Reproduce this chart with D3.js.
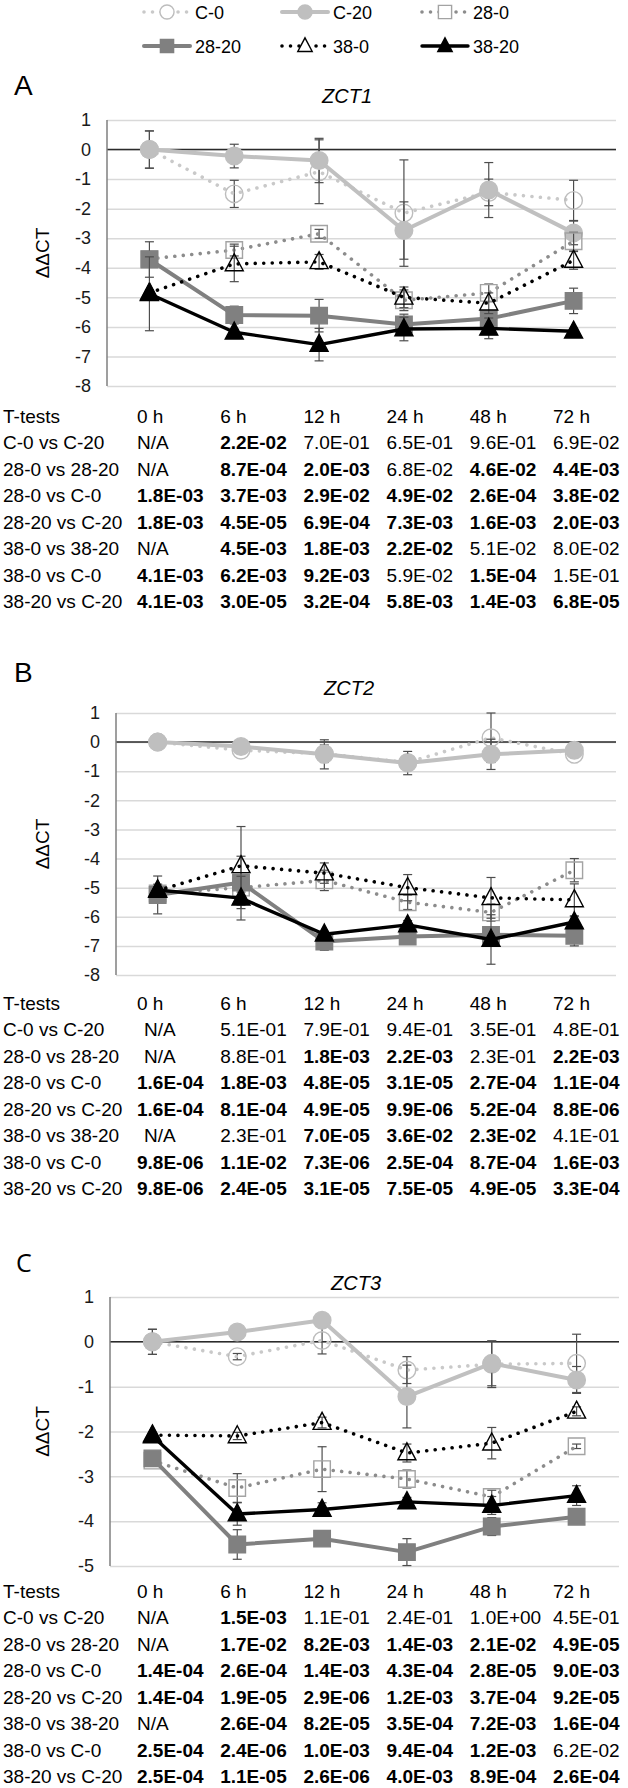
<!DOCTYPE html>
<html>
<head>
<meta charset="utf-8">
<script src="https://cdn.jsdelivr.net/npm/d3@7"></script>
<style>
  body { margin: 0; background: #fff; }
  svg { display: block; font-family: "Liberation Sans", Arial, sans-serif; }
</style>
</head>
<body>
<svg id="fig" width="628" height="1788"></svg>
<script>
// ---- data ----
const hours = ["0 h", "6 h", "12 h", "24 h", "48 h", "72 h"];
const seriesNames = ["C-0", "C-20", "28-0", "28-20", "38-0", "38-20"];

// ZCT1 mean ddCT and error
const zct1_C0   = [0, -1.5, -0.75, -2.15, -1.45, -1.72];
const zct1_C20  = [0, -0.22, -0.37, -2.74, -1.37, -2.82];
const zct1_280  = [-3.7, -3.4, -2.85, -5.1, -4.85, -3.1];
const zct1_2820 = [-3.72, -5.6, -5.62, -5.92, -5.72, -5.12];
const zct1_380  = [-4.85, -3.87, -3.8, -5.0, -5.2, -3.75];
const zct1_3820 = [-4.88, -6.18, -6.6, -6.07, -6.05, -6.15];
const zct1_C0_sd   = [0.63, 0.46, 1.08, 1.8, 0.45, 0.68];
const zct1_C20_sd  = [0.63, 0.4, 0.75, 0.97, 0.93, 0.4];
const zct1_280_sd  = [0.1, 0.2, 0.15, 0.35, 0.3, 0.3];
const zct1_2820_sd = [0.6, 0.3, 0.55, 0.35, 0.25, 0.43];
const zct1_380_sd  = [0.1, 0.6, 0.25, 0.35, 0.35, 0.3];
const zct1_3820_sd = [1.25, 0.1, 0.55, 0.4, 0.35, 0.1];

// ZCT2
const zct2_C0   = [0, -0.28, -0.4, -0.7, 0.15, -0.42];
const zct2_C20  = [0, -0.15, -0.42, -0.72, -0.42, -0.28];
const zct2_280  = [-5.2, -5.0, -4.75, -5.5, -5.85, -4.4];
const zct2_2820 = [-5.25, -4.82, -6.85, -6.68, -6.62, -6.65];
const zct2_380  = [-5.1, -4.25, -4.5, -5.0, -5.35, -5.42];
const zct2_3820 = [-5.08, -5.36, -6.6, -6.28, -6.78, -6.18];
const zct2_C0_sd   = [0.05, 0.1, 0.3, 0.2, 0.85, 0.1];
const zct2_C20_sd  = [0.05, 0.1, 0.5, 0.4, 0.52, 0.1];
const zct2_280_sd  = [0.1, 0.15, 0.35, 0.25, 0.3, 0.4];
const zct2_2820_sd = [0.65, 0.9, 0.3, 0.2, 0.2, 0.35];
const zct2_380_sd  = [0.1, 1.35, 0.35, 0.45, 0.7, 0.55];
const zct2_3820_sd = [0.2, 0.75, 0.1, 0.15, 0.85, 0.2];

// ZCT3
const zct3_C0   = [0, -0.33, 0.03, -0.63, -0.5, -0.48];
const zct3_C20  = [0, 0.22, 0.48, -1.22, -0.48, -0.85];
const zct3_280  = [-2.65, -3.26, -2.84, -3.06, -3.46, -2.33];
const zct3_2820 = [-2.6, -4.52, -4.39, -4.69, -4.12, -3.9];
const zct3_380  = [-2.08, -2.1, -1.8, -2.48, -2.26, -1.55];
const zct3_3820 = [-2.1, -3.84, -3.74, -3.57, -3.65, -3.43];
const zct3_C0_sd   = [0.28, 0.07, 0.3, 0.3, 0.52, 0.65];
const zct3_C20_sd  = [0.28, 0.05, 0.05, 0.7, 0.5, 0.3];
const zct3_280_sd  = [0.05, 0.32, 0.5, 0.2, 0.15, 0.05];
const zct3_2820_sd = [0.05, 0.33, 0.1, 0.3, 0.2, 0.05];
const zct3_380_sd  = [0.05, 0.08, 0.12, 0.2, 0.35, 0.1];
const zct3_3820_sd = [0.05, 0.25, 0.15, 0.1, 0.2, 0.22];

// t-test p values
const ttestRows = ["C-0 vs C-20", "28-0 vs 28-20", "28-0 vs C-0", "28-20 vs C-20",
                   "38-0 vs 38-20", "38-0 vs C-0", "38-20 vs C-20"];
const zct1_p = [
  ["N/A", "2.2E-02", "7.0E-01", "6.5E-01", "9.6E-01", "6.9E-02"],
  ["N/A", "8.7E-04", "2.0E-03", "6.8E-02", "4.6E-02", "4.4E-03"],
  ["1.8E-03", "3.7E-03", "2.9E-02", "4.9E-02", "2.6E-04", "3.8E-02"],
  ["1.8E-03", "4.5E-05", "6.9E-04", "7.3E-03", "1.6E-03", "2.0E-03"],
  ["N/A", "4.5E-03", "1.8E-03", "2.2E-02", "5.1E-02", "8.0E-02"],
  ["4.1E-03", "6.2E-03", "9.2E-03", "5.9E-02", "1.5E-04", "1.5E-01"],
  ["4.1E-03", "3.0E-05", "3.2E-04", "5.8E-03", "1.4E-03", "6.8E-05"]
];
const zct2_p = [
  ["N/A", "5.1E-01", "7.9E-01", "9.4E-01", "3.5E-01", "4.8E-01"],
  ["N/A", "8.8E-01", "1.8E-03", "2.2E-03", "2.3E-01", "2.2E-03"],
  ["1.6E-04", "1.8E-03", "4.8E-05", "3.1E-05", "2.7E-04", "1.1E-04"],
  ["1.6E-04", "8.1E-04", "4.9E-05", "9.9E-06", "5.2E-04", "8.8E-06"],
  ["N/A", "2.3E-01", "7.0E-05", "3.6E-02", "2.3E-02", "4.1E-01"],
  ["9.8E-06", "1.1E-02", "7.3E-06", "2.5E-04", "8.7E-04", "1.6E-03"],
  ["9.8E-06", "2.4E-05", "3.1E-05", "7.5E-05", "4.9E-05", "3.3E-04"]
];
const zct3_p = [
  ["N/A", "1.5E-03", "1.1E-01", "2.4E-01", "1.0E+00", "4.5E-01"],
  ["N/A", "1.7E-02", "8.2E-03", "1.4E-03", "2.1E-02", "4.9E-05"],
  ["1.4E-04", "2.6E-04", "1.4E-03", "4.3E-04", "2.8E-05", "9.0E-03"],
  ["1.4E-04", "1.9E-05", "2.9E-06", "1.2E-03", "3.7E-04", "9.2E-05"],
  ["N/A", "2.6E-04", "8.2E-05", "3.5E-04", "7.2E-03", "1.6E-04"],
  ["2.5E-04", "2.4E-06", "1.0E-03", "9.4E-04", "1.2E-03", "6.2E-02"],
  ["2.5E-04", "1.1E-05", "2.6E-06", "4.0E-03", "8.9E-04", "2.6E-04"]
];

// ---- styles ----
const seriesStyle = {
  "C-0":   {line: "#c9c9c9", width: 3.6, dotted: true,  marker: "circle",   fill: "none",    stroke: "#bdbdbd"},
  "C-20":  {line: "#c0c0c0", width: 4,   dotted: false, marker: "circle",   fill: "#bfbfbf", stroke: "#bfbfbf"},
  "28-0":  {line: "#8c8c8c", width: 3.6, dotted: true,  marker: "square",   fill: "none",    stroke: "#a3a3a3"},
  "28-20": {line: "#808080", width: 4,   dotted: false, marker: "square",   fill: "#808080", stroke: "#808080"},
  "38-0":  {line: "#000",    width: 3.6, dotted: true,  marker: "triangle", fill: "none",    stroke: "#000"},
  "38-20": {line: "#000",    width: 3.4, dotted: false, marker: "triangle", fill: "#000",    stroke: "#000"}
};

function markerPath(kind, s) {
  if (kind === "circle") return d3.symbol(d3.symbolCircle, Math.PI * (8.8 * s) * (8.8 * s))();
  if (kind === "square") return d3.symbol(d3.symbolSquare, (16.5 * s) * (16.5 * s))();
  const w = 9 * s, h = 17 * s;
  return `M0,${-h * 0.6}L${w},${h * 0.4}L${-w},${h * 0.4}Z`;
}

const svg = d3.select("#fig");

// ---- legend ----
const legendCols = [144, 282, 422];
const legendRows = [12, 46];
seriesNames.forEach((name, i) => {
  const st = seriesStyle[name];
  const x0 = legendCols[i % 3], y0 = legendRows[Math.floor(i / 3)];
  const g = svg.append("g").attr("transform", `translate(${x0},${y0})`);
  g.append("line").attr("x1", 0).attr("x2", 46).attr("y1", 0).attr("y2", 0)
    .attr("stroke", st.line).attr("stroke-width", st.width)
    .attr("stroke-linecap", "round")
    .attr("stroke-dasharray", st.dotted ? "0.01 8.5" : null);
  g.append("path").attr("d", markerPath(st.marker, 0.8))
    .attr("transform", "translate(23,0)")
    .attr("fill", st.fill === "none" ? "#fff" : st.fill)
    .attr("stroke", st.stroke).attr("stroke-width", 1.4);
  g.append("text").attr("x", 51).attr("y", 6.5)
    .attr("font-size", 18).attr("fill", "#000").text(name);
});

// ---- panels ----
const panels = [
  {letter: "A", title: "ZCT1", yMin: -8, top: 120, bottom: 386, left: 107, right: 616,
   letterY: 95, titleX: 347, titleY: 103, tableY: 416, naShift: 0,
   mean: [zct1_C0, zct1_C20, zct1_280, zct1_2820, zct1_380, zct1_3820],
   sd: [zct1_C0_sd, zct1_C20_sd, zct1_280_sd, zct1_2820_sd, zct1_380_sd, zct1_3820_sd],
   p: zct1_p},
  {letter: "B", title: "ZCT2", yMin: -8, top: 713, bottom: 975, left: 116, right: 616,
   letterY: 682, titleX: 349, titleY: 695, tableY: 1003, naShift: 7,
   mean: [zct2_C0, zct2_C20, zct2_280, zct2_2820, zct2_380, zct2_3820],
   sd: [zct2_C0_sd, zct2_C20_sd, zct2_280_sd, zct2_2820_sd, zct2_380_sd, zct2_3820_sd],
   p: zct2_p},
  {letter: "C", title: "ZCT3", yMin: -5, top: 1297, bottom: 1566, left: 110, right: 619,
   letterY: 1272, titleX: 356, titleY: 1290, tableY: 1591, naShift: 0,
   mean: [zct3_C0, zct3_C20, zct3_280, zct3_2820, zct3_380, zct3_3820],
   sd: [zct3_C0_sd, zct3_C20_sd, zct3_280_sd, zct3_2820_sd, zct3_380_sd, zct3_3820_sd],
   p: zct3_p}
];

const tableX = d3.scalePoint().domain(hours).range([137, 553]);
const rowStep = 26.5;

panels.forEach(pn => {
  const x = d3.scaleBand().domain(hours).range([pn.left, pn.right]).padding(0);
  const cx = h => x(h) + x.bandwidth() / 2;
  const y = d3.scaleLinear().domain([pn.yMin, 1]).range([pn.bottom, pn.top]);
  const g = svg.append("g");

  // panel letter and title
  g.append("text").attr("x", pn.letter === "C" ? 16 : 14).attr("y", pn.letterY)
    .attr("font-size", pn.letter === "C" ? 25 : 28)
    .attr("font-family", pn.letter === "C" ? "'Open Sans', sans-serif" : null)
    .text(pn.letter);
  g.append("text").attr("x", pn.titleX).attr("y", pn.titleY)
    .attr("text-anchor", "middle").attr("font-size", 20).attr("font-style", "italic")
    .text(pn.title);

  // gridlines + tick labels
  const ax = g.append("g").attr("transform", `translate(${pn.left},0)`)
    .call(d3.axisLeft(y).tickValues(d3.range(pn.yMin, 2)).tickFormat(d => String(d))
      .tickSizeInner(-(pn.right - pn.left)).tickSizeOuter(0).tickPadding(16));
  ax.select(".domain").remove();
  ax.selectAll(".tick line").attr("stroke", "#d9d9d9").attr("stroke-width", 1.5);
  ax.selectAll(".tick text").attr("font-size", 18).attr("fill", "#1a1a1a")
    .attr("font-family", "'Liberation Sans', Arial, sans-serif");

  // zero line and y axis line
  g.append("line").attr("x1", pn.left).attr("x2", pn.right)
    .attr("y1", y(0)).attr("y2", y(0)).attr("stroke", "#2b2b2b").attr("stroke-width", 1.5);
  g.append("line").attr("x1", pn.left).attr("x2", pn.left)
    .attr("y1", y(1)).attr("y2", y(pn.yMin)).attr("stroke", "#7f7f7f").attr("stroke-width", 1.5);

  // y label
  g.append("text").attr("transform", `translate(42,${(pn.top + pn.bottom) / 2}) rotate(-90)`)
    .attr("text-anchor", "middle").attr("dominant-baseline", "central")
    .attr("font-size", 19).text("ΔΔCT");

  // series
  const line = d3.line().x((d, i) => cx(hours[i])).y(d => y(d));
  seriesNames.forEach((name, si) => {
    const st = seriesStyle[name];
    const vals = pn.mean[si], errs = pn.sd[si];
    const sg = g.append("g");
    const eb = sg.selectAll("g.err").data(vals.map((v, i) => ({v, e: errs[i], h: hours[i]})))
      .join("g").attr("stroke", "#4d4d4d").attr("stroke-width", 1.2);
    eb.append("line").attr("x1", d => cx(d.h)).attr("x2", d => cx(d.h))
      .attr("y1", d => y(d.v + d.e)).attr("y2", d => y(d.v - d.e));
    eb.append("line").attr("x1", d => cx(d.h) - 4.5).attr("x2", d => cx(d.h) + 4.5)
      .attr("y1", d => y(d.v + d.e)).attr("y2", d => y(d.v + d.e));
    eb.append("line").attr("x1", d => cx(d.h) - 4.5).attr("x2", d => cx(d.h) + 4.5)
      .attr("y1", d => y(d.v - d.e)).attr("y2", d => y(d.v - d.e));
    sg.append("path").datum(vals).attr("d", line).attr("fill", "none")
      .attr("stroke", st.line).attr("stroke-width", st.width)
      .attr("stroke-linecap", "round").attr("stroke-linejoin", "round")
      .attr("stroke-dasharray", st.dotted ? "0.01 8.5" : null);
    sg.selectAll("path.mk").data(vals).join("path").attr("class", "mk")
      .attr("d", markerPath(st.marker, 1))
      .attr("transform", (d, i) => `translate(${cx(hours[i])},${y(d)})`)
      .attr("fill", st.fill).attr("stroke", st.stroke).attr("stroke-width", 1.4);
  });

  // t-test table
  const tg = g.append("g").attr("font-size", 19).attr("fill", "#000");
  tg.append("text").attr("x", 3).attr("y", pn.tableY + 6.5).text("T-tests");
  hours.forEach(h => tg.append("text").attr("x", tableX(h)).attr("y", pn.tableY + 6.5).text(h));
  ttestRows.forEach((r, ri) => {
    const yy = pn.tableY + (ri + 1) * rowStep + 6.5;
    tg.append("text").attr("x", 3).attr("y", yy).text(r);
    pn.p[ri].forEach((v, ci) => {
      const isNA = v === "N/A";
      tg.append("text")
        .attr("x", tableX(hours[ci]) + (isNA ? pn.naShift : 0)).attr("y", yy)
        .attr("font-weight", !isNA && +v < 0.05 ? "bold" : null)
        .text(v);
    });
  });
});
</script>
</body>
</html>
